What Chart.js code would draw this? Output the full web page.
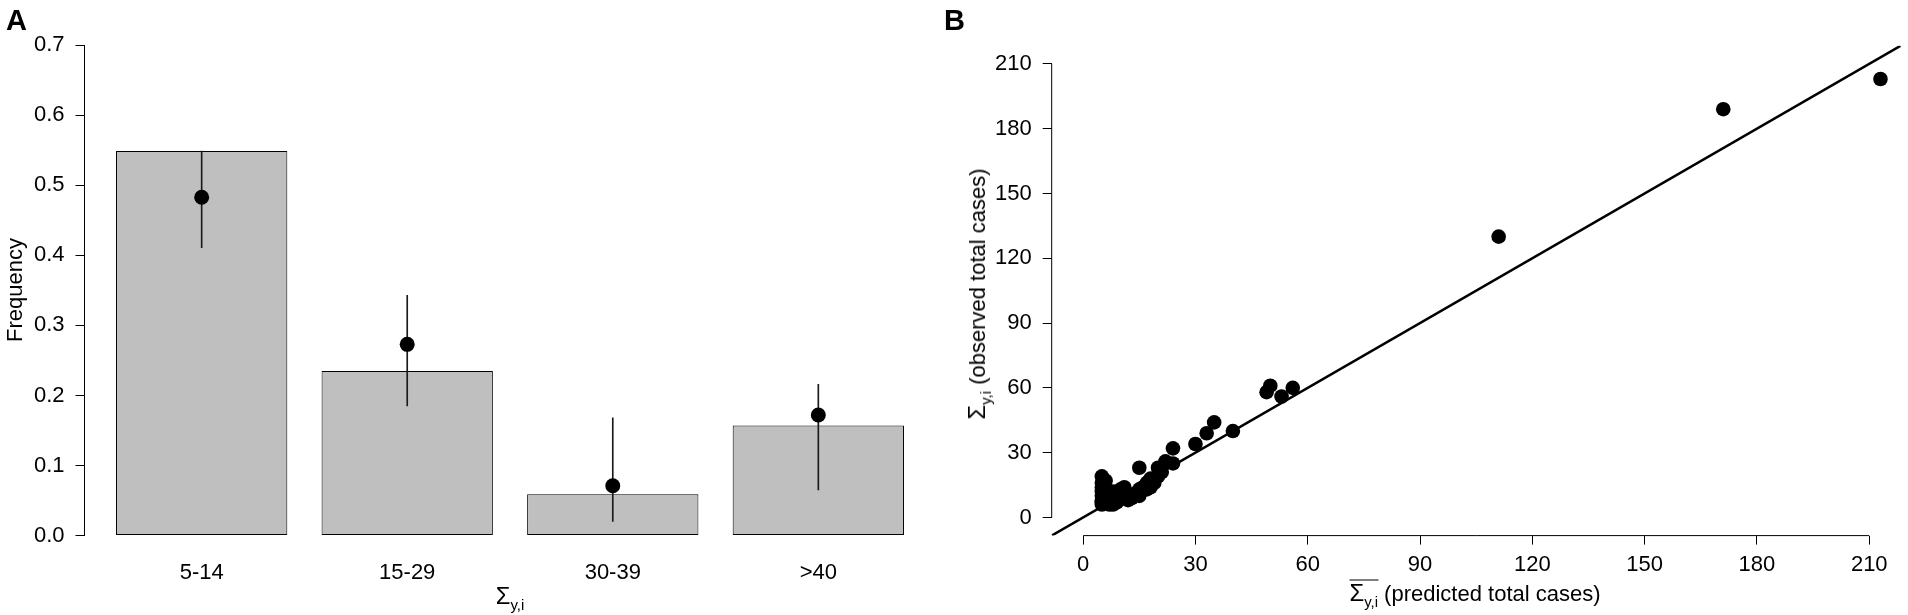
<!DOCTYPE html>
<html>
<head>
<meta charset="utf-8">
<script src="https://cdn.jsdelivr.net/npm/chart.js@4.4.1/dist/chart.umd.min.js"></script>
<style>
  html, body { margin: 0; padding: 0; background: #fff; }
  body { width: 1908px; height: 615px; position: relative; overflow: hidden;
         font-family: 'Liberation Sans', Arial, sans-serif; color: #000; }
  canvas { position: absolute; top: 0; }
  #chartA { left: 0; }
  #chartB { left: 954px; }
  .lbl { position: absolute; white-space: nowrap; font-size: 22px; line-height: 1;
         transform: translate(-50%, -50%); }
  .rot { transform: translate(-50%, -50%) rotate(-90deg); }
  .panel { position: absolute; font-weight: bold; font-size: 29px; line-height: 1; }
  .sub { font-size: 0.68em; position: relative; top: 0.38em; }
  .sig { font-size: 1.08em; }
  .over { display: inline-block; border-top: 1px solid #000; line-height: 0.9; padding-top: 1px; }
</style>
</head>
<body>
<canvas id="chartA" width="954" height="615"></canvas>
<canvas id="chartB" width="954" height="615"></canvas>

<div class="panel" style="left:6px; top:6px;">A</div>
<div class="panel" style="left:944px; top:6px;">B</div>

<div class="lbl rot" style="left:15px; top:290px;">Frequency</div>
<div class="lbl" style="left:510px; top:596px;"><span class="sig">&Sigma;</span><span class="sub">y,i</span></div>

<div class="lbl rot" style="left:977px; top:294px;"><span class="sig">&Sigma;</span><span class="sub">y,i</span> (observed total cases)</div>
<div class="lbl" style="left:1475px; top:592px;"><span class="over"><span class="sig">&Sigma;</span><span class="sub">y,i</span></span> (predicted total cases)</div>

<script>
'use strict';

// panel A: frequency of outbreak sizes
const sizeClasses = ['5-14', '15-29', '30-39', '>40'];
const observedFreq = [0.549, 0.235, 0.059, 0.157];
const predictedFreq = [0.483, 0.273, 0.071, 0.172];
const predictedLow = [0.411, 0.185, 0.020, 0.065];
const predictedHigh = [0.549, 0.343, 0.168, 0.216];
const freqTicks = [0, 0.1, 0.2, 0.3, 0.4, 0.5, 0.6, 0.7];

// panel B: predicted vs observed total cases
const predictedTotal = [
    5, 5, 5, 5, 5, 5, 5, 5,
    6, 6, 6, 6,
    7, 7, 7,
    8, 8, 8,
    9, 9,
    10, 10,
    11, 11,
    12, 12,
    13, 14,
    15, 15, 15,
    16, 17, 17, 18, 18, 19,
    20, 20, 21, 22, 24, 24,
    30, 33, 35, 40,
    49, 50, 53, 56,
    111, 171, 213
];
const observedTotal = [
    19, 16, 14, 12, 10, 8, 7, 6,
    17, 13, 10, 7,
    11, 8, 6,
    12, 9, 6,
    10, 7,
    13, 9,
    14, 10,
    11, 8,
    9, 11,
    23, 13, 10,
    14, 16, 13, 18, 14, 16,
    19, 23, 21, 26, 25, 32,
    34, 39, 44, 40,
    58, 61, 56, 60,
    130, 189, 203
];
const caseTicks = [0, 30, 60, 90, 120, 150, 180, 210];

Chart.defaults.font.family = "'Liberation Sans', Arial, sans-serif";
Chart.defaults.font.size = 22;
Chart.defaults.color = '#000';

// barplot layout as in R: width 1, space 0.2
const barWidth = 1;
const barSpace = 0.2;
const barX = i => barSpace + barWidth / 2 + i * (barWidth + barSpace);
const barSpan = sizeClasses.length * (barWidth + barSpace);
const barPad = 0.04 * (barSpan - barSpace);

const common = {
    responsive: false,
    animation: false,
    events: [],
    plugins: { legend: { display: false }, tooltip: { enabled: false } }
};

new Chart(document.getElementById('chartA'), {
    type: 'bar',
    data: {
        datasets: [{
            type: 'line',
            data: predictedFreq.map((v, i) => ({ x: barX(i), y: v })),
            showLine: false,
            pointRadius: 7.5,
            pointBackgroundColor: '#000',
            pointBorderWidth: 0,
            order: 1
        }, {
            data: predictedLow.map((v, i) => ({ x: barX(i), y: [v, predictedHigh[i]] })),
            backgroundColor: '#1a1a1a',
            barThickness: 1,
            borderWidth: 0,
            grouped: false,
            order: 2
        }, {
            data: observedFreq.map((v, i) => ({ x: barX(i), y: v })),
            backgroundColor: '#bfbfbf',
            borderColor: '#000',
            borderWidth: 1,
            borderSkipped: false,
            categoryPercentage: 1,
            barPercentage: barWidth / (barWidth + barSpace),
            grouped: false,
            order: 3
        }]
    },
    options: {
        ...common,
        layout: { padding: { left: 0, top: 45.3, right: 18.5, bottom: 0 } },
        scales: {
            x: {
                type: 'linear',
                offset: false,
                min: barSpace - barPad,
                max: barSpan + barPad,
                afterBuildTicks: s => { s.ticks = sizeClasses.map((c, i) => ({ value: barX(i) })); },
                afterFit: s => { s.height = 79.5; },
                grid: { display: false, offset: false },
                border: { display: false },
                ticks: { callback: (v, i) => sizeClasses[i], maxRotation: 0, autoSkip: false, padding: 16 }
            },
            y: {
                min: 0,
                max: 0.7,
                afterBuildTicks: s => { s.ticks = freqTicks.map(v => ({ value: v })); },
                afterFit: s => { s.width = 84.5; },
                grid: { drawOnChartArea: false, tickLength: 9, color: '#000' },
                border: { color: '#000', width: 1 },
                ticks: { callback: v => v.toFixed(1), padding: 11 }
            }
        }
    }
});

// R style axes: the axis line runs from first to last tick only
const rAxes = {
    id: 'rAxes',
    afterDraw(chart) {
        const { ctx, chartArea, scales: { x, y } } = chart;
        const first = caseTicks[0];
        const last = caseTicks[caseTicks.length - 1];
        ctx.save();
        ctx.strokeStyle = '#000';
        ctx.lineWidth = 1;
        ctx.beginPath();
        ctx.moveTo(x.getPixelForValue(first), chartArea.bottom);
        ctx.lineTo(x.getPixelForValue(last), chartArea.bottom);
        ctx.moveTo(chartArea.left, y.getPixelForValue(first));
        ctx.lineTo(chartArea.left, y.getPixelForValue(last));
        ctx.stroke();
        ctx.restore();
    }
};

const casePad = 0.04 * (caseTicks[caseTicks.length - 1] - caseTicks[0]);
const caseMin = caseTicks[0] - casePad;
const caseMax = caseTicks[caseTicks.length - 1] + casePad;

new Chart(document.getElementById('chartB'), {
    type: 'scatter',
    data: {
        datasets: [{
            data: predictedTotal.map((v, i) => ({ x: v, y: observedTotal[i] })),
            pointRadius: 7.3,
            pointBackgroundColor: '#000',
            pointBorderWidth: 0,
            order: 1
        }, {
            type: 'line',
            data: [caseMin, caseMax].map(v => ({ x: v, y: v })),
            borderColor: '#000',
            borderWidth: 2.5,
            pointRadius: 0,
            order: 2
        }]
    },
    options: {
        ...common,
        layout: { padding: { left: 0, top: 45.7, right: 4.1, bottom: 0 } },
        scales: {
            x: {
                type: 'linear',
                min: caseMin,
                max: caseMax,
                afterBuildTicks: s => { s.ticks = caseTicks.map(v => ({ value: v })); },
                afterFit: s => { s.height = 79.4; },
                grid: { drawOnChartArea: false, tickLength: 9, color: '#000' },
                border: { display: false },
                ticks: { maxRotation: 0, autoSkip: false, padding: 7 }
            },
            y: {
                type: 'linear',
                min: caseMin,
                max: caseMax,
                afterBuildTicks: s => { s.ticks = caseTicks.map(v => ({ value: v })); },
                afterFit: s => { s.width = 97.7; },
                grid: { drawOnChartArea: false, tickLength: 9, color: '#000' },
                border: { display: false },
                ticks: { autoSkip: false, padding: 11 }
            }
        }
    },
    plugins: [rAxes]
});
</script>
</body>
</html>
